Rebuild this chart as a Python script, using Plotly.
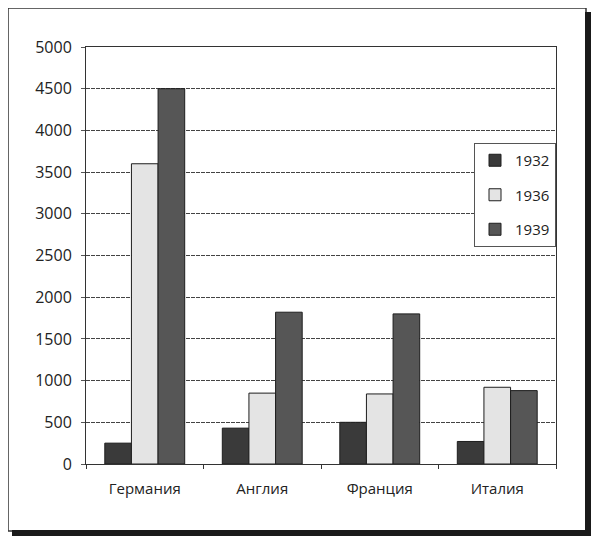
import plotly.graph_objects as go

categories = ["Германия", "Англия", "Франция", "Италия"]
years = ["1932", "1936", "1939"]
values_1932 = [250, 430, 500, 270]
values_1936 = [3600, 850, 840, 920]
values_1939 = [4500, 1820, 1800, 880]
y_ticks = [0, 500, 1000, 1500, 2000, 2500, 3000, 3500, 4000, 4500, 5000]

W, H = 600, 545
OFF = 8  # page body margin offset
L, R, T, B = 86 - OFF, 556 - OFF, 47 - OFF, 464 - OFF


def px_x(x):
    return (x - OFF - L) / (R - L)


def px_y(y):
    return (B - (y - OFF)) / (B - T)


series = [values_1932, values_1936, values_1939]
fills = ["#3a3a3a", "#e4e4e4", "#565656"]

fig = go.Figure()
for i, (yr, vals) in enumerate(zip(years, series)):
    fig.add_trace(go.Bar(
        x=categories, y=vals, name=yr, legendgroup=yr,
        marker=dict(color=fills[i], line=dict(color="#1e1e1e", width=1)),
    ))

shapes = []
# outer frame
shapes.append(dict(type="rect", xref="paper", yref="paper",
                   x0=px_x(8), x1=px_x(586), y0=px_y(8), y1=px_y(531),
                   line=dict(color="#333", width=1.5), layer="below"))
shapes.append(dict(type="rect", xref="paper", yref="paper",
                   x0=px_x(585), x1=px_x(591), y0=px_y(12), y1=px_y(536),
                   line=dict(width=0), fillcolor="#1a1a1a", layer="below"))
shapes.append(dict(type="rect", xref="paper", yref="paper",
                   x0=px_x(12), x1=px_x(591), y0=px_y(530), y1=px_y(536),
                   line=dict(width=0), fillcolor="#1a1a1a", layer="below"))

fig.update_layout(
    width=W, height=H,
    margin=dict(l=L, r=W - R, t=T, b=H - B, pad=0),
    paper_bgcolor="white", plot_bgcolor="white",
    barmode="group", bargap=0.32, bargroupgap=0,
    font=dict(family="Open Sans", color="#222"),
    showlegend=True,
    legend=dict(x=px_x(474), y=px_y(143), xanchor="left", yanchor="top",
                bgcolor="white", bordercolor="#555", borderwidth=1,
                font=dict(size=15, color="#222"), tracegroupgap=12,
                itemwidth=30),
    shapes=shapes,
    xaxis=dict(showgrid=False, showline=True, linecolor="#333", linewidth=1,
               mirror=True, ticks="outside", tickson="boundaries", ticklen=4,
               tickcolor="#333", tickfont=dict(size=15, color="#222"),
               ticklabelstandoff=11),
    yaxis=dict(range=[0, 5000], tickvals=y_ticks, showgrid=True,
               gridcolor="#444", griddash="4px,1px", gridwidth=1,
               showline=True, linecolor="#333", linewidth=1, mirror=True,
               ticks="outside", ticklen=4, tickcolor="#555",
               tickfont=dict(size=16, color="#222"), ticklabelstandoff=6,
               zeroline=False),
)

fig.write_html("out.html")
